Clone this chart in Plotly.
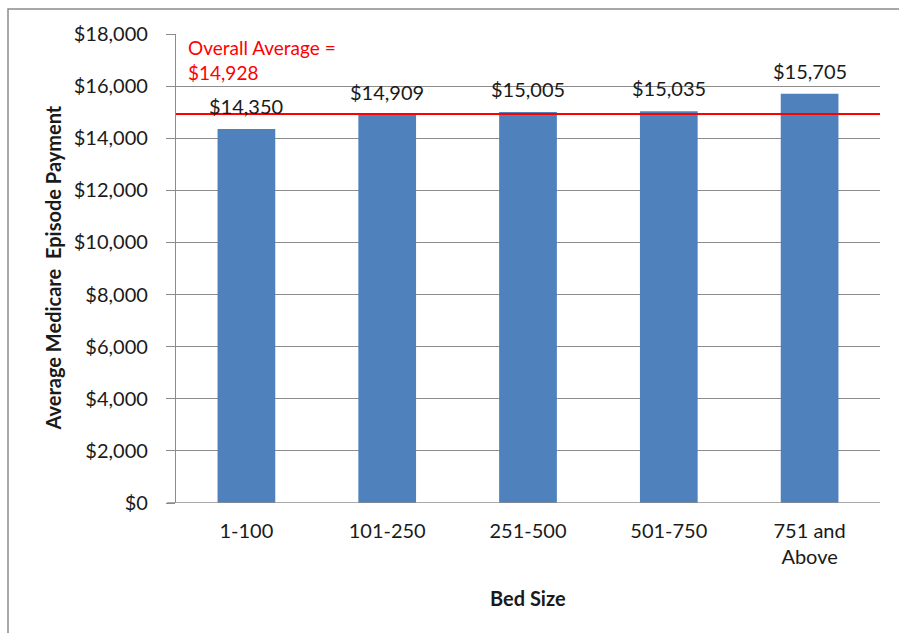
import plotly.graph_objects as go

# Average Medicare episode payment by hospital bed size
bed_sizes = ["1-100", "101-250", "251-500", "501-750", "751 and<br>Above"]
avg_payment = [14350, 14909, 15005, 15035, 15705]
overall_average = 14928
y_ticks = [0, 2000, 4000, 6000, 8000, 10000, 12000, 14000, 16000, 18000]
y_tick_text = ["$0", "$2,000", "$4,000", "$6,000", "$8,000", "$10,000",
               "$12,000", "$14,000", "$16,000", "$18,000"]

FONT = "Lato, Carlito, Calibri, sans-serif"
GRID = "#8c8c8c"
INK = "#1a1a1a"
FS = 20

fig = go.Figure()
fig.add_trace(go.Bar(
    x=bed_sizes,
    y=avg_payment,
    marker=dict(color="#4F81BD", line=dict(width=0)),
    hoverinfo="skip",
))

# value labels above each bar
for cat, val in zip(bed_sizes, avg_payment):
    fig.add_annotation(
        x=cat, y=val, xref="x", yref="y", text=f"${val:,}",
        xanchor="center", yanchor="bottom", yshift=9, showarrow=False,
        font=dict(size=FS, color=INK, family=FONT),
    )

fig.update_layout(
    width=899, height=633,
    margin=dict(l=176, r=19, t=34, b=130),
    paper_bgcolor="white", plot_bgcolor="white",
    bargap=0.59,
    showlegend=False,
    font=dict(family=FONT, size=FS, color=INK),
    xaxis=dict(
        showline=False, ticks="", showgrid=False,
        ticklabelstandoff=14,
        tickfont=dict(size=FS, family=FONT, color=INK),
    ),
    yaxis=dict(
        range=[0, 18000], tickvals=y_ticks, ticktext=y_tick_text,
        showgrid=True, gridcolor=GRID, gridwidth=1.3,
        showline=True, linecolor=GRID, linewidth=1.3,
        ticks="outside", ticklen=9, tickcolor=GRID, tickwidth=1.3,
        ticklabelstandoff=14,
        zeroline=False,
        tickfont=dict(size=FS, family=FONT, color=INK),
    ),
)

shapes = [
    # x-axis baseline, extending past the y axis like a tick
    dict(type="line", xref="paper", yref="y", x0=-9 / 704, x1=1, y0=0, y1=0,
         line=dict(color=GRID, width=1.6), layer="above"),
    # overall average reference line
    dict(type="line", xref="paper", yref="y", x0=0, x1=1,
         y0=overall_average, y1=overall_average,
         line=dict(color="#FF0000", width=2), layer="above"),
    # outer chart frame
    dict(type="rect", xref="paper", yref="paper",
         x0=(8 - 176) / 704, x1=(910 - 176) / 704,
         y0=(503 - 650) / 469, y1=(503 - 9) / 469,
         line=dict(color="#8c8c8c", width=1.5), layer="below"),
]
fig.update_layout(shapes=shapes)

fig.add_annotation(
    text="Overall Average =", xref="paper", yref="paper",
    x=(186 - 176) / 704, y=(503 - 47) / 469, xanchor="left", yanchor="middle",
    showarrow=False, font=dict(size=19, color="#FF0000", family=FONT),
)
fig.add_annotation(
    text=f"${overall_average:,}", xref="paper", yref="paper",
    x=(186 - 176) / 704, y=(503 - 72) / 469, xanchor="left", yanchor="middle",
    showarrow=False, font=dict(size=19, color="#FF0000", family=FONT),
)
fig.add_annotation(
    text="<b>Average Medicare  Episode Payment</b>", xref="paper", yref="paper",
    x=(52 - 176) / 704, y=0.5, textangle=-90, xanchor="center", yanchor="middle",
    showarrow=False, font=dict(size=FS, color=INK, family=FONT),
)
fig.add_annotation(
    text="<b>Bed Size</b>", xref="paper", yref="paper",
    x=0.5, y=(503 - 598) / 469, xanchor="center", yanchor="middle",
    showarrow=False, font=dict(size=FS, color=INK, family=FONT),
)

fig.write_html("out.html")
